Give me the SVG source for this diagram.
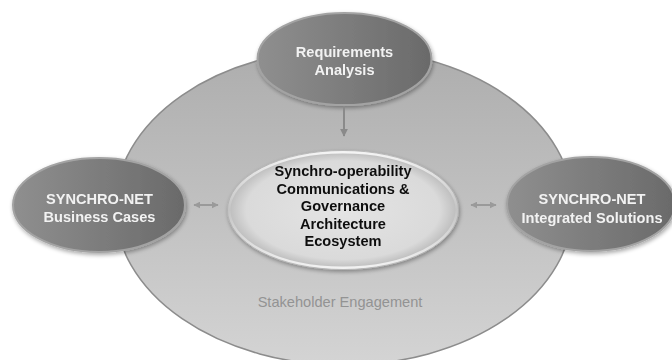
<svg xmlns="http://www.w3.org/2000/svg" width="672" height="360" viewBox="0 0 672 360">
<defs>
<linearGradient id="bigG" x1="0" y1="0" x2="0" y2="1">
<stop offset="0" stop-color="#adadad"/>
<stop offset="1" stop-color="#d4d4d4"/>
</linearGradient>
<linearGradient id="darkG" x1="0" y1="0" x2="1" y2="0">
<stop offset="0" stop-color="#8f8f8f"/>
<stop offset="1" stop-color="#6a6a6a"/>
</linearGradient>
<radialGradient id="cenG" cx="0.5" cy="0.5" r="0.5">
<stop offset="0" stop-color="#e4e4e4"/>
<stop offset="0.85" stop-color="#dadada"/>
<stop offset="1" stop-color="#bdbdbd"/>
</radialGradient>
<linearGradient id="rimG" x1="0" y1="0" x2="0" y2="1">
<stop offset="0" stop-color="#f4f4f4"/>
<stop offset="0.5" stop-color="#c4c4c4"/>
<stop offset="1" stop-color="#f2f2f2"/>
</linearGradient>
<filter id="sh" x="-10%" y="-10%" width="130%" height="130%">
<feGaussianBlur in="SourceAlpha" stdDeviation="2"/>
<feOffset dx="1" dy="2" result="b"/>
<feComponentTransfer><feFuncA type="linear" slope="0.35"/></feComponentTransfer>
<feMerge><feMergeNode/><feMergeNode in="SourceGraphic"/></feMerge>
</filter>
<marker id="ah" viewBox="0 0 10 10" refX="9" refY="5" markerWidth="4" markerHeight="4" orient="auto-start-reverse">
<path d="M0,0 L10,5 L0,10 z" fill="#8a8a8a"/>
</marker>
<marker id="ah2" viewBox="0 0 10 10" refX="9" refY="5" markerWidth="3.5" markerHeight="3.5" orient="auto-start-reverse">
<path d="M0,0 L10,5 L0,10 z" fill="#9a9a9a"/>
</marker>
</defs>
<style>
.dark{fill:url(#darkG);stroke:#a3a3a3;stroke-width:2}
.wt{font-family:"Liberation Sans",Arial,sans-serif;font-weight:bold;font-size:14.6px;fill:#f2f2f2;text-anchor:middle}
.bt{font-family:"Liberation Sans",Arial,sans-serif;font-weight:bold;font-size:14.6px;fill:#111;text-anchor:middle}
.gt{font-family:"Liberation Sans",Arial,sans-serif;font-size:14.6px;fill:#939393;text-anchor:middle}
</style>
<rect width="672" height="360" fill="#ffffff"/>
<g id="stakeholder">
<ellipse cx="344" cy="207" rx="229" ry="158" fill="url(#bigG)" stroke="#8c8c8c" stroke-width="1.5"/>
<text class="gt" x="340" y="307">Stakeholder Engagement</text>
</g>
<g id="requirements" filter="url(#sh)">
<ellipse class="dark" cx="344.5" cy="59" rx="87" ry="46"/>
<text class="wt" x="344.5" y="57">Requirements</text>
<text class="wt" x="344.5" y="75">Analysis</text>
</g>
<g id="business" filter="url(#sh)">
<ellipse class="dark" cx="99" cy="205" rx="86" ry="47"/>
<text class="wt" x="99.5" y="204">SYNCHRO-NET</text>
<text class="wt" x="99.5" y="222">Business Cases</text>
</g>
<g id="integrated" filter="url(#sh)">
<ellipse class="dark" cx="591" cy="204" rx="84" ry="47"/>
<text class="wt" x="592" y="204">SYNCHRO-NET</text>
<text class="wt" x="592" y="223">Integrated Solutions</text>
</g>
<g id="center" filter="url(#sh)">
<ellipse cx="343" cy="210" rx="114" ry="58" fill="url(#cenG)" stroke="url(#rimG)" stroke-width="3"/>
<ellipse cx="343" cy="210" rx="115.5" ry="59.5" fill="none" stroke="#b0b0b0" stroke-width="0.8"/>
<text class="bt" x="343" y="176">Synchro-operability</text>
<text class="bt" x="343" y="194">Communications &amp;</text>
<text class="bt" x="343" y="211">Governance</text>
<text class="bt" x="343" y="229">Architecture</text>
<text class="bt" x="343" y="246">Ecosystem</text>
</g>
<g id="connectors">
<line x1="344" y1="106" x2="344" y2="136" stroke="#8a8a8a" stroke-width="2" marker-end="url(#ah)"/>
<line x1="194" y1="205" x2="218" y2="205" stroke="#9a9a9a" stroke-width="2" marker-start="url(#ah2)" marker-end="url(#ah2)"/>
<line x1="471" y1="205" x2="496" y2="205" stroke="#9a9a9a" stroke-width="2" marker-start="url(#ah2)" marker-end="url(#ah2)"/>
</g>
</svg>
